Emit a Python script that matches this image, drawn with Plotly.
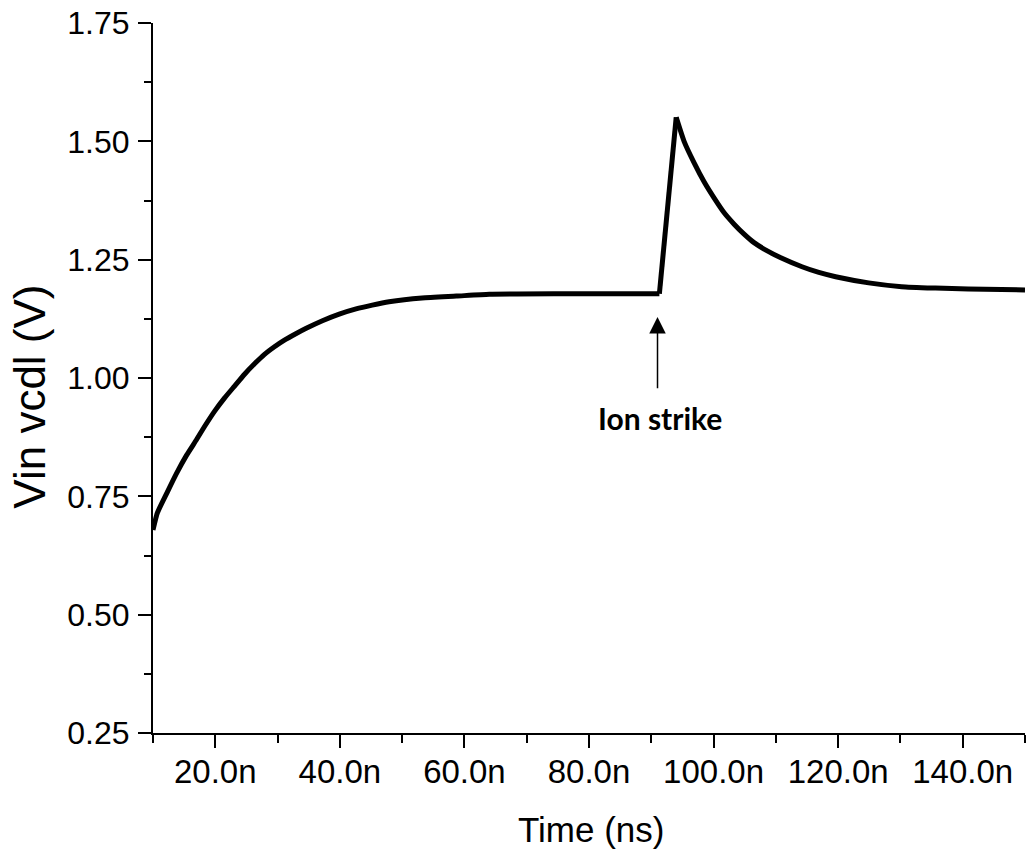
import plotly.graph_objects as go

# Data (time in ns, voltage in V)
time_ns = [10.0, 10.7, 12.3, 13.8, 15.4, 17.0, 18.3, 19.9, 21.5, 23.1, 24.7, 26.3,
           27.9, 29.5, 31.1, 33.0, 34.6, 37.2, 39.9, 42.6, 45.2, 47.9, 53.2, 58.7,
           64.0, 75.0, 85.0, 91.3, 94.0, 95.3, 96.9, 98.5, 100.1, 101.7, 103.3,
           104.9, 106.5, 108.7, 110.8, 114.2, 116.9, 119.6, 124.9, 130.2, 135.6,
           140.9, 150.0]
vin_vcdl = [0.679, 0.715, 0.759, 0.799, 0.837, 0.870, 0.898, 0.930, 0.958, 0.983,
            1.008, 1.030, 1.050, 1.066, 1.080, 1.094, 1.105, 1.121, 1.135, 1.146,
            1.154, 1.161, 1.169, 1.173, 1.177, 1.178, 1.178, 1.178, 1.551, 1.499,
            1.454, 1.414, 1.380, 1.349, 1.325, 1.304, 1.286, 1.268, 1.254, 1.235,
            1.223, 1.214, 1.201, 1.193, 1.190, 1.188, 1.186]

x_tick_vals = [20, 40, 60, 80, 100, 120, 140]
x_tick_text = ["20.0n", "40.0n", "60.0n", "80.0n", "100.0n", "120.0n", "140.0n"]
y_tick_vals = [0.25, 0.50, 0.75, 1.00, 1.25, 1.50, 1.75]
y_tick_text = ["0.25", "0.50", "0.75", "1.00", "1.25", "1.50", "1.75"]

strike_time = 91.0
arrow_tip = 1.129
arrow_tail = 0.975
label_y = 0.915

# segment boundaries (indices into the arrays)
i_strike = 27     # ion strike start
i_peak = 28       # peak

line_style = dict(color="black", width=5)

fig = go.Figure()
# charging and settling
fig.add_trace(go.Scatter(x=time_ns[:i_strike + 1], y=vin_vcdl[:i_strike + 1],
                         mode="lines", line=dict(shape="spline", smoothing=0.5, **line_style),
                         showlegend=False))
# strike rise
fig.add_trace(go.Scatter(x=time_ns[i_strike:i_peak + 1], y=vin_vcdl[i_strike:i_peak + 1],
                         mode="lines", line=dict(shape="linear", **line_style),
                         showlegend=False))
# recovery
fig.add_trace(go.Scatter(x=time_ns[i_peak:], y=vin_vcdl[i_peak:],
                         mode="lines", line=dict(shape="spline", smoothing=0.5, **line_style),
                         showlegend=False))

axis_font = "Liberation Sans, Arial, sans-serif"

fig.update_layout(
    width=1026, height=852,
    margin=dict(l=153, r=1, t=23, b=119),
    paper_bgcolor="white", plot_bgcolor="white",
    xaxis=dict(range=[10, 150], showgrid=False, zeroline=False,
               showline=True, linecolor="black", linewidth=2,
               ticks="outside", ticklen=13, tickwidth=2, tickcolor="black",
               tickvals=x_tick_vals, ticktext=x_tick_text,
               tickfont=dict(family=axis_font, size=33, color="black"),
               ticklabelstandoff=-5,
               minor=dict(tickvals=[10, 30, 50, 70, 90, 110, 130, 150],
                          ticks="outside", ticklen=8, tickwidth=2,
                          tickcolor="black", showgrid=False)),
    yaxis=dict(range=[0.25, 1.75], showgrid=False, zeroline=False,
               showline=True, linecolor="black", linewidth=2,
               ticks="outside", ticklen=13, tickwidth=2, tickcolor="black",
               tickvals=y_tick_vals, ticktext=y_tick_text,
               tickfont=dict(family=axis_font, size=32, color="black"),
               ticklabelstandoff=2,
               minor=dict(tickvals=[0.375, 0.625, 0.875, 1.125, 1.375, 1.625],
                          ticks="outside", ticklen=7, tickwidth=2,
                          tickcolor="black", showgrid=False)),
    annotations=[
        dict(x=strike_time, y=arrow_tip, ax=strike_time, ay=arrow_tail,
             xref="x", yref="y", axref="x", ayref="y", text="",
             showarrow=True, arrowhead=2, arrowsize=2.2, arrowwidth=1.5,
             arrowcolor="black"),
        dict(x=strike_time + 0.4, y=label_y, xref="x", yref="y",
             text="<b>Ion strike</b>", showarrow=False,
             font=dict(family="Lato, sans-serif", size=30, color="black"),
             xanchor="center", yanchor="middle"),
        dict(x=0.502, y=-0.1366, xref="paper", yref="paper", text="Time (ns)",
             showarrow=False, xanchor="center", yanchor="middle",
             font=dict(family=axis_font, size=35, color="black")),
        dict(x=-0.142, y=0.474, xref="paper", yref="paper", text="Vin vcdl (V)",
             showarrow=False, xanchor="center", yanchor="middle", textangle=-90,
             font=dict(family=axis_font, size=44, color="black")),
    ],
)

fig.write_html("out.html", config={"displayModeBar": False},
               post_script="document.body.style.margin='0';")
